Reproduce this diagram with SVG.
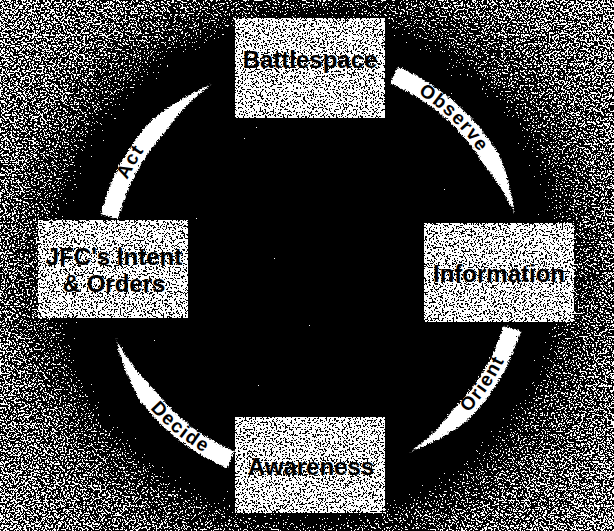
<svg xmlns="http://www.w3.org/2000/svg" width="614" height="531" viewBox="0 0 614 531">
<defs>
  <style>
    .box { fill: #9a9a9a; }
    .boxlabel { font-family: "Liberation Sans", Arial, sans-serif; font-weight: bold; font-size: 24px; fill: #000; text-anchor: middle; }
    .arrow { fill: #fff; }
    .arclabel { font-family: "Liberation Sans", Arial, sans-serif; font-weight: bold; font-size: 19px; fill: #000; letter-spacing: 1.5px; }
  </style>
  <radialGradient id="bgGrad" gradientUnits="userSpaceOnUse" cx="309" cy="268" r="410">
    <stop offset="0" stop-color="#000"/>
    <stop offset="0.57" stop-color="#000"/>
    <stop offset="0.64" stop-color="#585858"/>
    <stop offset="0.74" stop-color="#707070"/>
    <stop offset="1" stop-color="#828282"/>
  </radialGradient>
  <filter id="grain" filterUnits="objectBoundingBox" x="0" y="0" width="1" height="1" color-interpolation-filters="sRGB">
    <feTurbulence type="fractalNoise" baseFrequency="0.55" numOctaves="2" seed="7" result="noise"/>
    <feColorMatrix in="noise" type="matrix" values="1 0 0 0 0  1 0 0 0 0  1 0 0 0 0  0 0 0 0 1" result="gray"/>
    <feComposite in="SourceGraphic" in2="gray" operator="arithmetic" k1="0" k2="-3.1667" k3="4.1667" k4="0" result="mix"/>
    <feComponentTransfer in="mix">
      <feFuncR type="discrete" tableValues="1 0"/>
      <feFuncG type="discrete" tableValues="1 0"/>
      <feFuncB type="discrete" tableValues="1 0"/>
    </feComponentTransfer>
  </filter>
  <filter id="rough" x="-10%" y="-10%" width="120%" height="120%">
    <feTurbulence type="turbulence" baseFrequency="0.45" numOctaves="1" seed="3" result="t"/>
    <feDisplacementMap in="SourceGraphic" in2="t" scale="4" xChannelSelector="R" yChannelSelector="G"/>
  </filter>
  <path id="pObserve" d="M325.2,63.5 A203,203 0 0 1 512.9,244.8"/>
  <path id="pAct" d="M111.1,301.2 A203,203 0 0 1 241.6,75.2"/>
  <path id="pOrient" d="M368.8,473.1 A215,215 0 0 0 525.0,245.0"/>
  <path id="pDecide" d="M100.0,307.0 A215,215 0 0 0 314.8,481.0"/>
</defs>

<g id="background">
  <rect x="0" y="0" width="614" height="531" fill="url(#bgGrad)" filter="url(#grain)"/>
</g>

<g id="connectors">
  <g id="edge-observe">
    <path class="arrow" filter="url(#rough)" d="M396.2,65.3 A218,218 0 0 1 497.9,153.7 A218,218 0 0 1 512.9,211.9 A200,200 0 0 0 482.4,163.0 A200,200 0 0 0 389.1,81.9 Z"/>
    <text class="arclabel"><textPath href="#pObserve" startOffset="50%" text-anchor="middle">Observe</textPath></text>
  </g>
  <g id="edge-orient">
    <path class="arrow" filter="url(#rough)" d="M519.5,329.7 A218,218 0 0 1 465.1,420.1 A218,218 0 0 1 409.1,450.5 A200,200 0 0 0 452.4,407.4 A200,200 0 0 0 502.3,324.5 Z"/>
    <text class="arclabel"><textPath href="#pOrient" startOffset="50%" text-anchor="middle">Orient</textPath></text>
  </g>
  <g id="edge-decide">
    <path class="arrow" filter="url(#rough)" d="M225.8,466.7 A218,218 0 0 1 139.2,400.2 A218,218 0 0 1 114.6,337.5 A200,200 0 0 0 153.4,389.1 A200,200 0 0 0 232.9,450.1 Z"/>
    <text class="arclabel"><textPath href="#pDecide" startOffset="50%" text-anchor="middle">Decide</textPath></text>
  </g>
  <g id="edge-act">
    <path class="arrow" filter="url(#rough)" d="M99.5,213.3 A218,218 0 0 1 149.0,120.1 A218,218 0 0 1 209.7,83.2 A200,200 0 0 0 162.4,132.2 A200,200 0 0 0 116.9,217.6 Z"/>
    <text class="arclabel"><textPath href="#pAct" startOffset="50%" text-anchor="middle">Act</textPath></text>
  </g>
</g>

<g id="node-battlespace">
  <rect class="box" x="235" y="18" width="150" height="100" filter="url(#grain)"/>
  <text class="boxlabel" x="310" y="68">Battlespace</text>
</g>
<g id="node-information">
  <rect class="box" x="424" y="223" width="150" height="99" filter="url(#grain)"/>
  <text class="boxlabel" x="499" y="282">Information</text>
</g>
<g id="node-awareness">
  <rect class="box" x="235" y="417" width="150" height="96" filter="url(#grain)"/>
  <text class="boxlabel" x="311" y="475">Awareness</text>
</g>
<g id="node-jfc">
  <rect class="box" x="38" y="220" width="150" height="98" filter="url(#grain)"/>
  <text class="boxlabel" x="114" y="265">JFC's Intent</text>
  <text class="boxlabel" x="114" y="292">&amp; Orders</text>
</g>
</svg>
